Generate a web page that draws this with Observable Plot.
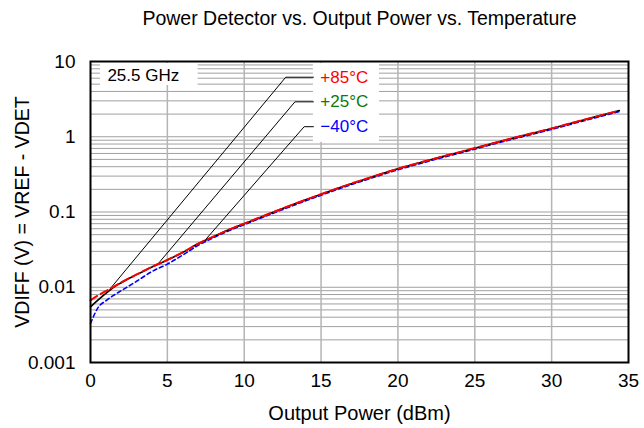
<!DOCTYPE html>
<html>
<head>
<meta charset="utf-8">
<script src="https://cdn.jsdelivr.net/npm/d3@7"></script>
<script src="https://cdn.jsdelivr.net/npm/@observablehq/plot@0.6"></script>
<style>
  html, body { margin: 0; padding: 0; background: white; }
</style>
</head>
<body>
<div id="chart"></div>
<script>
// ---- Data ----
const title = "Power Detector vs. Output Power vs. Temperature";
const xLabel = "Output Power (dBm)";
const yLabel = "VDIFF (V) = VREF - VDET";
const freqLabel = "25.5 GHz";

const xTicks = [0, 5, 10, 15, 20, 25, 30, 35];
const yTicks = [0.001, 0.01, 0.1, 1, 10];
const yTickLabels = ["0.001", "0.01", "0.1", "1", "10"];
const xGrid = [5, 10, 15, 20, 25, 30];
const decades = [0.001, 0.01, 0.1, 1];
const mantissas = [1, 2, 3, 4, 5, 6, 7, 8, 9];

// +25°C (black, solid)
const x25 = [0, 0.5, 1, 1.5, 2, 3, 4, 5, 6, 7, 8, 9, 10, 12, 14, 15, 16, 18, 20, 22, 24, 26, 28, 30, 32, 34, 34.4];
const v25 = [0.0055, 0.0068, 0.0083, 0.0100, 0.0115, 0.0147, 0.0186, 0.0230, 0.0290, 0.0378, 0.0470, 0.0580, 0.0700, 0.1014, 0.145, 0.172, 0.204, 0.279, 0.375, 0.488, 0.624, 0.80, 1.02, 1.29, 1.66, 2.12, 2.23];

// +85°C (red, dashed)
const x85 = [0, 0.5, 1, 1.5, 2, 3, 4, 5, 6, 7, 8, 9, 10, 12, 14, 15, 16, 18, 20, 22, 24, 26, 28, 30, 32, 34, 34.3];
const v85 = [0.0067, 0.0078, 0.0089, 0.0101, 0.0116, 0.0148, 0.0187, 0.0231, 0.0291, 0.0379, 0.0471, 0.0581, 0.0702, 0.1016, 0.1452, 0.1722, 0.2043, 0.2793, 0.3755, 0.4885, 0.6245, 0.8005, 1.021, 1.291, 1.661, 2.121, 2.2];

// -40°C (blue, dashed)
const x40 = [0, 0.5, 1, 1.5, 2, 3, 4, 5, 6, 7, 8, 9, 10, 12, 14, 15, 16, 18, 20, 22, 24, 26, 28, 30, 32, 34, 34.4];
const v40 = [0.0033, 0.0054, 0.0066, 0.0078, 0.0090, 0.0120, 0.0162, 0.0203, 0.0268, 0.0360, 0.0456, 0.0563, 0.0679, 0.0984, 0.1407, 0.1668, 0.1979, 0.2706, 0.3638, 0.4734, 0.6053, 0.776, 0.989, 1.251, 1.610, 2.056, 2.16];

// legend annotation (leader lines in data units)
const legendNames = ["+85°C", "+25°C", "\u221240°C"];
const legendColors = ["#ff0000", "#0a7a0a", "#0000ff"];
const leaderX = [[1.27, 12.7, 14.5], [4.39, 13.3, 14.5], [7.53, 13.9, 14.5]];
const leaderY = [[0.0095, 6.18, 6.18], [0.0204, 2.91, 2.91], [0.044, 1.36, 1.36]];
const legendBox = {x1: 14.5, x2: 18.8, y1: 0.84, y2: 9.4};
const freqBox = {x1: 0.65, x2: 7.0, y1: 4.8, y2: 9.4};
const freqPos = {x: 1.1, y: 6.5};

// ---- Build tables ----
const yGrid = decades.flatMap(d => mantissas.map(m => +(d * m).toPrecision(3))).concat([10]);
const s25 = x25.map((x, i) => ({x, v: v25[i]}));
const s85 = x85.map((x, i) => ({x, v: v85[i]}));
const s40 = x40.map((x, i) => ({x, v: v40[i]}));
const leaders = leaderX.flatMap((xs, k) => xs.map((x, j) => ({k, x, y: leaderY[k][j]})));
const legendRows = legendNames.map((name, k) => ({name, color: legendColors[k], x: 14.95, y: leaderY[k][2]}));

const font = "'Liberation Sans', Arial, Helvetica, sans-serif";

const chart = Plot.plot({
  width: 644,
  height: 428,
  marginLeft: 90,
  marginRight: 16,
  marginTop: 61,
  marginBottom: 66,
  style: {fontFamily: font, fontSize: "19px", background: "white", color: "black"},
  x: {domain: [0, 35], ticks: xTicks, tickSize: 0, tickPadding: 11, label: null},
  y: {type: "log", domain: [0.001, 10], ticks: yTicks, tickFormat: (d) => yTickLabels[yTicks.indexOf(d)], tickSize: 0, tickPadding: 15, label: null},
  marks: [
    Plot.ruleY(yGrid, {stroke: "#a0a0a0", strokeWidth: 1}),
    Plot.ruleX(xGrid, {stroke: "#b4b4b4", strokeWidth: 1.5}),
    Plot.rect([freqBox], {x1: "x1", x2: "x2", y1: "y1", y2: "y2", fill: "white"}),
    Plot.rect([legendBox], {x1: "x1", x2: "x2", y1: "y1", y2: "y2", fill: "white"}),
    Plot.line(leaders, {x: "x", y: "y", z: "k", stroke: "black", strokeWidth: 1}),
    Plot.line(s40, {x: "x", y: "v", stroke: "#0000ff", strokeWidth: 1.6, strokeDasharray: "4,3", curve: "monotone-x"}),
    Plot.line(s25, {x: "x", y: "v", stroke: "black", strokeWidth: 1.6, curve: "monotone-x"}),
    Plot.line(s85, {x: "x", y: "v", stroke: "#ff0000", strokeWidth: 2, strokeDasharray: "8,4", curve: "monotone-x"}),
    Plot.text([freqLabel], {x: freqPos.x, y: freqPos.y, text: d => d, textAnchor: "start", fontSize: 17, fill: "black"}),
    Plot.text(legendRows, {x: "x", y: "y", text: "name", fill: "color", textAnchor: "start", fontSize: 17}),
    Plot.frame({stroke: "black", strokeWidth: 2}),
    Plot.text([title], {frameAnchor: "top", text: d => d, dy: -43, textAnchor: "middle", lineAnchor: "middle", fontSize: 19.5, fill: "black"}),
    Plot.text([xLabel], {frameAnchor: "bottom", text: d => d, dy: 51, textAnchor: "middle", lineAnchor: "middle", fontSize: 20, fill: "black"}),
    Plot.text([yLabel], {frameAnchor: "left", text: d => d, dx: -68, rotate: -90, textAnchor: "middle", lineAnchor: "middle", fontSize: 19.5, fill: "black"})
  ]
});
document.getElementById("chart").appendChild(chart);
</script>
</body>
</html>
